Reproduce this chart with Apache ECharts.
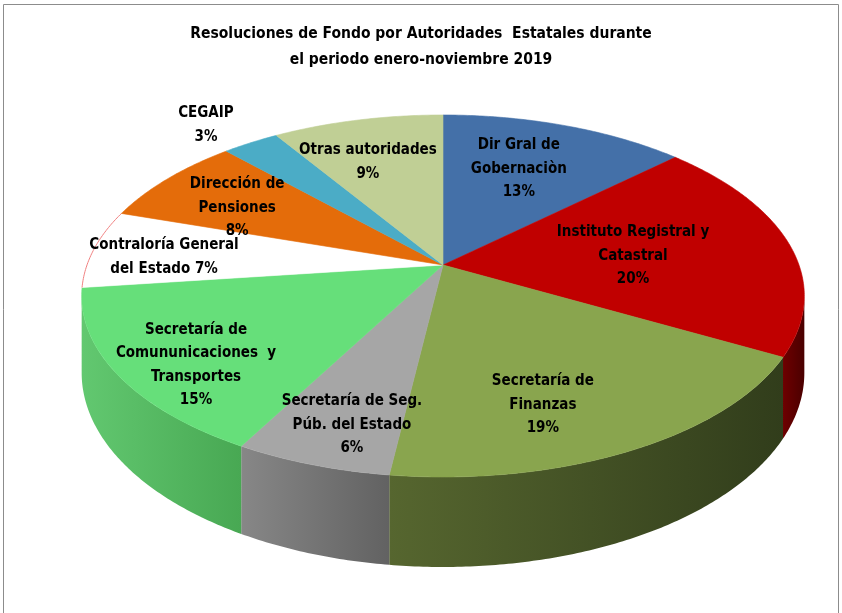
<!DOCTYPE html>
<html>
<head>
<meta charset="utf-8">
<script src="https://cdn.jsdelivr.net/npm/echarts@6/dist/echarts.min.js"></script>
<style>
  html, body { margin: 0; padding: 0; background: #fff; }
  #pie { width: 842px; height: 613px; }
</style>
</head>
<body>
<div id="pie"></div>
<script>
// datos
var names = ['Dir Gral de\nGobernaciòn', 'Instituto Registral y\nCatastral', 'Secretaría de\nFinanzas',
    'Secretaría de Seg.\nPúb. del Estado', 'Secretaría de\nComununicaciones  y\nTransportes',
    'Contraloría General\ndel Estado', 'Dirección de\nPensiones', 'CEGAIP', 'Otras autoridades'];
var values = [13, 20, 19, 6, 15, 7, 8, 3, 9];
var pctSep = ['\n', '\n', '\n', '\n', '\n', ' ', '\n', '\n', '\n'];

// estilos
var topColors = ['#4470A8', '#C00000', '#89A54E', '#A6A6A6', '#66DF7A', '#FFFFFF', '#E46C0A', '#4BACC6', '#C0CF95'];
var wallColors = [['#2f4f78', '#223a58'], ['#6e0000', '#4a0000'], ['#56662f', '#313d1b'], ['#878787', '#626262'],
    ['#62c870', '#48a853'], ['#dddddd', '#bbbbbb'], ['#a04c06', '#7a3a05'], ['#35798b', '#275a68'], ['#87916a', '#6a7252']];
// posicion de etiquetas: [radio relativo, desplazamiento angular en grados]
var labelPlace = [[0.647, -2.1], [0.541, 1.7], [0.743, 7.6], [0.818, -2.3], [0.818, -5.2],
    [0.791, -2.1], [0.702, -3.1], [1.202, -2.1], [0.692, -3.6]];

var CX = 443, CY = 265, RX = 356, RY = 175.7, PERSP = 5.84, DEPTH = 74.6;
var FONT = "'Liberation Sans Narrow', 'DejaVu Sans Condensed', 'Liberation Sans', sans-serif";

var total = values.reduce(function (a, b) { return a + b; }, 0);
var starts = [], ends = [], acc = 0;
values.forEach(function (v) {
    starts.push(acc / total * Math.PI * 2);
    acc += v;
    ends.push(acc / total * Math.PI * 2);
});
var VIS0 = Math.acos(-1 / PERSP), VIS1 = Math.PI * 2 - VIS0;

function project(r, t, drop) {
    var u = r * Math.sin(t), d = -r * Math.cos(t);
    var s = PERSP / (PERSP - d);
    return [CX + RX * u * s, CY + RY * d * s + (drop ? DEPTH * s : 0)];
}

function arc(a0, a1, drop) {
    var pts = [], n = Math.max(2, Math.ceil((a1 - a0) / 0.01));
    for (var k = 0; k <= n; k++) pts.push(project(1, a0 + (a1 - a0) * k / n, drop));
    return pts;
}

function renderItem(params, api) {
    var i = params.dataIndex;
    var a0 = starts[i], a1 = ends[i];
    var children = [];
    var w0 = Math.max(a0, VIS0), w1 = Math.min(a1, VIS1);
    if (w1 > w0) {
        var topEdge = arc(w0, w1, false);
        var botEdge = arc(w0, w1, true).reverse();
        var xs = topEdge.map(function (p) { return p[0]; });
        var minX = Math.min.apply(null, xs), maxX = Math.max.apply(null, xs);
        children.push({
            type: 'polygon',
            shape: { points: topEdge.concat(botEdge) },
            style: {
                fill: new echarts.graphic.LinearGradient(minX, 0, maxX, 0, [
                    { offset: 0, color: wallColors[i][0] },
                    { offset: 1, color: wallColors[i][1] }
                ], true),
                stroke: null
            }
        });
    }
    var face = [[CX, CY]].concat(arc(a0, a1, false));
    children.push({
        type: 'polygon',
        shape: { points: face },
        style: { fill: topColors[i], stroke: topColors[i], lineWidth: 0.6 }
    });
    if (topColors[i] === '#FFFFFF') {
        children.push({
            type: 'polyline',
            shape: { points: arc(a0, a1, false) },
            style: { stroke: '#f08080', lineWidth: 1, fill: null }
        });
    }
    var lp = labelPlace[i];
    var pos = project(lp[0], (a0 + a1) / 2 + lp[1] * Math.PI / 180, false);
    var pct = Math.round(api.value(0) / total * 100) + '%';
    children.push({
        type: 'text',
        x: pos[0],
        y: pos[1],
        z2: 100,
        style: {
            text: names[i] + pctSep[i] + pct,
            fill: '#000',
            fontSize: 15,
            fontWeight: 'bold',
            fontFamily: FONT,
            lineHeight: 23.5,
            align: 'center',
            verticalAlign: 'middle'
        }
    });
    return { type: 'group', children: children };
}

var chart = echarts.init(document.getElementById('pie'));
var option = {
    animation: false,
    title: {
        text: 'Resoluciones de Fondo por Autoridades  Estatales durante\nel periodo enero-noviembre 2019',
        left: 'center',
        top: 16,
        textStyle: { fontSize: 15.5, fontWeight: 'bold', color: '#000', fontFamily: FONT, lineHeight: 26 }
    },
    graphic: [{
        type: 'rect',
        shape: { x: 3.5, y: 4.5, width: 835, height: 620 },
        style: { fill: null, stroke: '#8c8c8c', lineWidth: 1 },
        silent: true
    }],
    series: [{
        type: 'custom',
        coordinateSystem: 'none',
        renderItem: renderItem,
        data: values
    }]
};
chart.setOption(option);
</script>
</body>
</html>
